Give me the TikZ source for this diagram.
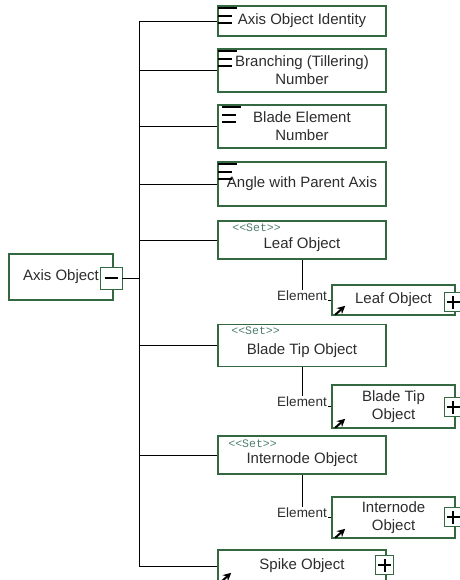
\documentclass[tikz,border=0pt]{standalone}
\usepackage{fontspec}
\setmainfont{Liberation Sans}
\setmonofont{Liberation Mono}
\usetikzlibrary{arrows.meta}

\definecolor{boxgreen}{RGB}{52,104,64}
\definecolor{textgray}{RGB}{45,45,45}
\definecolor{settext}{RGB}{78,128,108}

% three bars in the top left corner of an attribute box
\newcommand\attrmark[2]{%
  \draw[line width=2.4pt,black] ([shift={(#2,3)}]#1.north west) -- ++(19,0)
        ([shift={(#2,11)}]#1.north west) -- ++(14,0)
        ([shift={(#2,18)}]#1.north west) -- ++(14,0);}
\newcommand\plusmark[1]{%
  \draw[line width=2pt,black] ([xshift=-6.5pt]#1.center) -- ([xshift=6.5pt]#1.center)
        ([yshift=-6.5pt]#1.center) -- ([yshift=6.5pt]#1.center);}

\begin{document}
\begin{tikzpicture}[x=1pt,y=-1pt,
  every node/.style={font=\fontsize{15}{18}\selectfont,text=textgray},
  elem/.style={draw=boxgreen,line width=1.6pt,fill=white,minimum width=168pt,align=center,inner sep=0pt},
  setbox/.style={elem,text height=21pt},
  child/.style={elem,minimum width=123pt},
  pm/.style={draw=boxgreen,line width=0.8pt,fill=white,minimum width=18pt,minimum height=19pt,inner sep=0pt},
  wire/.style={black,line width=0.8pt},
  settag/.style={font=\ttfamily\fontsize{11.5}{11.5}\selectfont,text=settext,anchor=north west,inner sep=0pt},
  tag/.style={font=\fontsize{13.5}{14}\selectfont,fill=white,inner sep=1pt,anchor=south,yshift=-2pt},
  link/.style={-{Stealth[length=8pt,width=8pt]},line width=2pt,black}]

  \useasboundingbox (0,0) rectangle (459,580);

  \node[elem,minimum width=104pt,minimum height=46pt] (axis) at (61,277) {Axis Object};
  \node[pm,minimum width=22pt,minimum height=22pt] (minus) at (111,278) {};
  \draw[line width=2pt,black] ([xshift=-6.5pt]minus.center) -- ([xshift=6.5pt]minus.center);

  \node[elem,minimum height=30pt] (ident) at (302,21) {Axis Object Identity};
  \node[elem,minimum height=43pt] (branch) at (302,70.5) {Branching (Tillering)\\Number};
  \node[elem,minimum height=43pt] (blade) at (302,126.5) {Blade Element\\Number};
  \node[elem,minimum height=44pt] (angle) at (302,184) {Angle with Parent Axis};
  \node[setbox,minimum height=38pt] (leafset) at (302,240) {Leaf Object};
  \node[setbox,minimum height=42pt] (tipset) at (302,345.5) {Blade Tip Object};
  \node[setbox,minimum height=38pt] (interset) at (302,455) {Internode Object};
  \node[elem,minimum height=32pt] (spike) at (302,566) {Spike Object};

  \node[child,minimum height=30pt] (leaf) at (393.5,300) {Leaf Object};
  \node[child,minimum height=43pt] (tip) at (393.5,406.5) {Blade Tip\\Object};
  \node[child,minimum height=41pt] (inter) at (393.5,517.5) {Internode\\Object};

  \attrmark{ident}{1}
  \attrmark{branch}{1}
  \attrmark{blade}{5}
  \attrmark{angle}{1}

  \node[settag] at ([shift={(15,3)}]leafset.north west) {<<Set>>};
  \node[settag] at ([shift={(14,3)}]tipset.north west) {<<Set>>};
  \node[settag] at ([shift={(11,4)}]interset.north west) {<<Set>>};

  \foreach \n in {ident,branch,blade,angle,leafset,tipset,interset,spike}
    \draw[wire] (minus.east) -- ++(17,0) |- (\n.west);

  \draw[wire] (leafset.south) |- node[tag,pos=0.5] {Element} (leaf.west);
  \draw[wire] (tipset.south) |- node[tag,pos=0.5] {Element} (tip.west);
  \draw[wire] (interset.south) |- node[tag,pos=0.5] {Element} (inter.west);

  \node[pm] (leafplus) at (453,302) {};
  \node[pm] (tipplus) at (453,407) {};
  \node[pm] (interplus) at (453,517) {};
  \node[pm] (spikeplus) at (384.5,565) {};
  \foreach \p in {leafplus,tipplus,interplus,spikeplus} {\plusmark{\p}}

  \foreach \c in {leaf,tip,inter,spike}
    \draw[link] ([shift={(4,-1)}]\c.south west) -- ++(10,-9);

\end{tikzpicture}
\end{document}
